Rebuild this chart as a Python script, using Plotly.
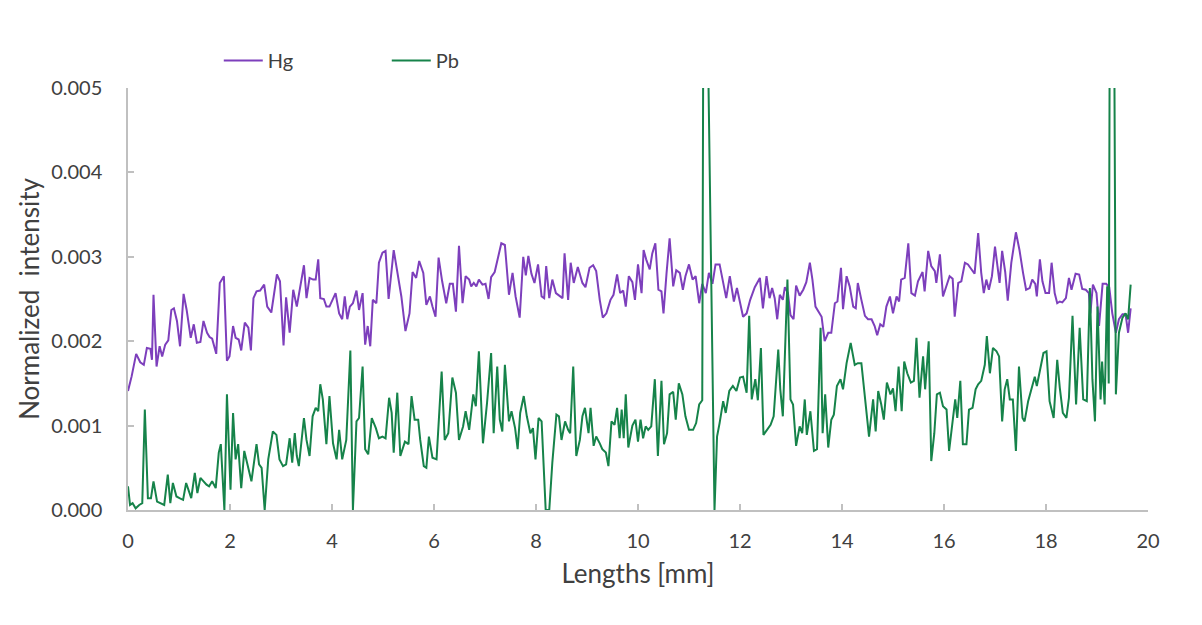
import plotly.graph_objects as go

# ---- data (x in mm, intensities in units of 1e-3) ----
x_hg = [0.00, 0.07, 0.16, 0.24, 0.31, 0.37, 0.44, 0.47, 0.50, 0.56, 0.62, 0.67, 0.73, 0.79, 0.85, 0.90, 0.96, 1.02, 1.09, 1.15,
        1.23, 1.29, 1.35, 1.42, 1.48, 1.55, 1.60, 1.65, 1.73, 1.80, 1.88, 1.94, 1.99, 2.06, 2.11, 2.17, 2.22, 2.29, 2.36, 2.41,
        2.46, 2.52, 2.59, 2.67, 2.73, 2.81, 2.92, 2.98, 3.05, 3.10, 3.17, 3.24, 3.31, 3.38, 3.45, 3.50, 3.56, 3.63, 3.68, 3.73,
        3.77, 3.84, 3.89, 3.95, 4.02, 4.07, 4.14, 4.20, 4.25, 4.30, 4.35, 4.41, 4.48, 4.53, 4.60, 4.65, 4.70, 4.75, 4.80, 4.87,
        4.92, 4.99, 5.05, 5.11, 5.21, 5.28, 5.36, 5.44, 5.52, 5.58, 5.65, 5.71, 5.79, 5.85, 5.92, 5.97, 6.03, 6.09, 6.16, 6.24,
        6.31, 6.37, 6.43, 6.49, 6.56, 6.62, 6.69, 6.73, 6.78, 6.83, 6.88, 6.95, 7.01, 7.07, 7.12, 7.19, 7.26, 7.32, 7.39, 7.47,
        7.54, 7.60, 7.68, 7.75, 7.80, 7.85, 7.91, 7.97, 8.04, 8.11, 8.16, 8.20, 8.26, 8.32, 8.39, 8.46, 8.52, 8.56, 8.63, 8.68,
        8.74, 8.82, 8.91, 8.97, 9.05, 9.12, 9.18, 9.25, 9.31, 9.38, 9.46, 9.52, 9.59, 9.65, 9.71, 9.76, 9.82, 9.89, 9.94, 10.00,
        10.07, 10.11, 10.16, 10.23, 10.28, 10.34, 10.40, 10.46, 10.50, 10.56, 10.62, 10.69, 10.75, 10.82, 10.88, 10.93, 11.00, 11.07, 11.13, 11.20,
        11.26, 11.33, 11.39, 11.46, 11.52, 11.60, 11.67, 11.73, 11.80, 11.88, 11.94, 12.01, 12.06, 12.13, 12.20, 12.29, 12.39, 12.45, 12.52, 12.58,
        12.63, 12.68, 12.73, 12.78, 12.84, 12.88, 12.94, 12.99, 13.05, 13.10, 13.17, 13.24, 13.30, 13.37, 13.42, 13.48, 13.55, 13.60, 13.66, 13.73,
        13.79, 13.86, 13.91, 13.98, 14.02, 14.09, 14.15, 14.22, 14.27, 14.31, 14.38, 14.45, 14.51, 14.58, 14.64, 14.69, 14.75, 14.81, 14.87, 14.94,
        15.00, 15.07, 15.12, 15.16, 15.23, 15.30, 15.36, 15.43, 15.49, 15.58, 15.62, 15.69, 15.75, 15.82, 15.85, 15.92, 15.98, 16.05, 16.11, 16.17,
        16.21, 16.28, 16.34, 16.41, 16.47, 16.54, 16.60, 16.67, 16.73, 16.78, 16.83, 16.88, 16.94, 17.00, 17.05, 17.09, 17.14, 17.20, 17.25, 17.32,
        17.41, 17.48, 17.55, 17.61, 17.68, 17.73, 17.79, 17.82, 17.88, 17.93, 17.99, 18.06, 18.11, 18.17, 18.22, 18.27, 18.32, 18.39, 18.45, 18.50,
        18.58, 18.65, 18.71, 18.78, 18.84, 18.87, 18.92, 18.99, 19.04, 19.11, 19.18, 19.24, 19.30, 19.37, 19.43, 19.50, 19.56, 19.61, 19.66]
hg_e3 = [1.41, 1.58, 1.85, 1.75, 1.72, 1.92, 1.91, 1.78, 2.55, 1.70, 1.94, 1.82, 1.96, 2.01, 2.37, 2.39, 2.24, 1.94, 2.56, 2.37,
         2.04, 2.20, 1.98, 1.99, 2.24, 2.10, 2.05, 2.03, 1.85, 2.69, 2.77, 1.77, 1.82, 2.18, 2.04, 2.02, 1.89, 2.22, 2.16, 1.89,
         2.51, 2.59, 2.60, 2.67, 2.41, 2.34, 2.79, 2.71, 1.95, 2.52, 2.10, 2.61, 2.41, 2.65, 2.90, 2.51, 2.75, 2.73, 2.73, 2.97,
         2.51, 2.50, 2.41, 2.41, 2.51, 2.57, 2.33, 2.26, 2.53, 2.26, 2.41, 2.45, 2.60, 2.37, 2.57, 1.96, 2.18, 1.94, 2.49, 2.45,
         2.93, 3.05, 3.07, 2.50, 3.08, 2.83, 2.53, 2.12, 2.33, 2.82, 2.75, 2.95, 2.81, 2.43, 2.53, 2.41, 2.29, 2.99, 2.71, 2.45,
         2.68, 2.68, 2.35, 3.13, 2.45, 2.77, 2.73, 2.65, 2.69, 2.65, 2.73, 2.67, 2.68, 2.50, 2.76, 2.82, 3.00, 3.16, 3.14, 2.55,
         2.81, 2.53, 2.28, 3.00, 2.78, 3.01, 2.80, 2.69, 2.91, 2.53, 2.51, 2.89, 2.51, 2.73, 2.57, 2.54, 2.51, 3.04, 2.49, 2.93,
         2.69, 2.88, 2.69, 2.64, 2.87, 2.90, 2.83, 2.49, 2.28, 2.33, 2.49, 2.55, 2.79, 2.57, 2.60, 2.41, 2.77, 2.70, 2.49, 2.91,
         2.57, 3.08, 2.97, 2.85, 3.04, 3.16, 2.61, 2.59, 2.33, 2.81, 3.22, 2.65, 2.84, 2.81, 2.61, 2.77, 2.91, 2.73, 2.77, 2.45,
         2.68, 2.57, 2.81, 2.68, 2.91, 2.91, 2.69, 2.51, 2.77, 2.47, 2.63, 2.41, 2.29, 2.33, 2.49, 2.64, 2.75, 2.39, 2.77, 2.51,
         2.63, 2.51, 2.26, 2.55, 2.49, 2.64, 2.57, 2.31, 2.26, 2.66, 2.54, 2.61, 2.70, 2.93, 2.73, 2.41, 2.33, 2.29, 2.00, 2.10,
         2.10, 2.45, 2.47, 2.87, 2.38, 2.77, 2.65, 2.41, 2.39, 2.69, 2.49, 2.30, 2.26, 2.26, 2.18, 2.07, 2.20, 2.17, 2.41, 2.53,
         2.33, 2.53, 2.47, 2.73, 2.75, 3.16, 2.57, 2.54, 2.71, 2.82, 2.59, 3.07, 2.89, 2.83, 2.69, 3.03, 2.53, 2.65, 2.77, 2.74,
         2.29, 2.69, 2.71, 2.93, 2.91, 2.85, 2.80, 3.28, 2.81, 2.57, 2.73, 2.61, 2.77, 3.12, 2.89, 2.69, 3.07, 2.82, 2.48, 2.93,
         3.29, 3.08, 2.81, 2.61, 2.63, 2.73, 2.68, 2.53, 2.97, 2.71, 2.57, 2.57, 2.93, 2.57, 2.45, 2.47, 2.46, 2.51, 2.75, 2.61,
         2.80, 2.79, 2.62, 2.61, 2.57, 2.33, 2.67, 2.57, 2.18, 2.68, 2.68, 2.64, 2.33, 2.10, 2.26, 2.32, 2.32, 2.10, 2.39]

x_pb = [0.00, 0.04, 0.09, 0.15, 0.22, 0.28, 0.33, 0.39, 0.45, 0.50, 0.57, 0.63, 0.71, 0.78, 0.83, 0.88, 0.95, 1.01, 1.08, 1.14,
        1.20, 1.24, 1.31, 1.36, 1.42, 1.48, 1.54, 1.59, 1.65, 1.72, 1.78, 1.82, 1.89, 1.94, 2.01, 2.06, 2.11, 2.16, 2.22, 2.28,
        2.35, 2.42, 2.52, 2.57, 2.62, 2.68, 2.75, 2.84, 2.91, 2.97, 3.04, 3.10, 3.17, 3.22, 3.27, 3.31, 3.35, 3.40, 3.45, 3.50,
        3.56, 3.62, 3.68, 3.73, 3.77, 3.82, 3.89, 3.95, 4.02, 4.09, 4.14, 4.20, 4.28, 4.36, 4.41, 4.48, 4.53, 4.60, 4.65, 4.71,
        4.78, 4.86, 4.92, 4.99, 5.05, 5.12, 5.17, 5.21, 5.28, 5.34, 5.43, 5.50, 5.56, 5.62, 5.69, 5.73, 5.80, 5.85, 5.90, 5.97,
        6.05, 6.15, 6.21, 6.28, 6.36, 6.43, 6.49, 6.57, 6.62, 6.69, 6.77, 6.82, 6.88, 6.96, 7.04, 7.12, 7.17, 7.24, 7.29, 7.34,
        7.39, 7.47, 7.52, 7.59, 7.64, 7.69, 7.76, 7.82, 7.89, 7.94, 7.99, 8.05, 8.11, 8.19, 8.26, 8.32, 8.40, 8.45, 8.50, 8.57,
        8.63, 8.67, 8.73, 8.79, 8.86, 8.91, 8.96, 9.03, 9.07, 9.13, 9.18, 9.25, 9.30, 9.37, 9.42, 9.48, 9.54, 9.59, 9.64, 9.68,
        9.72, 9.76, 9.81, 9.89, 9.95, 10.00, 10.05, 10.10, 10.15, 10.20, 10.26, 10.33, 10.39, 10.46, 10.51, 10.57, 10.62, 10.69, 10.74, 10.80,
        10.87, 10.93, 11.00, 11.08, 11.14, 11.20, 11.26, 11.29, 11.36, 11.50, 11.55, 11.60, 11.67, 11.72, 11.79, 11.86, 11.93, 12.00, 12.06, 12.13,
        12.18, 12.23, 12.30, 12.35, 12.41, 12.46, 12.53, 12.60, 12.66, 12.75, 12.79, 12.84, 12.93, 12.99, 13.04, 13.10, 13.17, 13.22, 13.27, 13.31,
        13.38, 13.45, 13.51, 13.58, 13.62, 13.67, 13.73, 13.79, 13.84, 13.90, 13.97, 14.02, 14.09, 14.17, 14.25, 14.31, 14.38, 14.45, 14.53, 14.61,
        14.66, 14.71, 14.77, 14.82, 14.88, 14.95, 15.00, 15.05, 15.11, 15.17, 15.22, 15.28, 15.35, 15.41, 15.46, 15.52, 15.59, 15.63, 15.70, 15.75,
        15.81, 15.86, 15.92, 15.98, 16.05, 16.10, 16.15, 16.22, 16.26, 16.32, 16.37, 16.44, 16.49, 16.56, 16.62, 16.67, 16.73, 16.80, 16.84, 16.90,
        16.96, 17.03, 17.08, 17.14, 17.19, 17.24, 17.29, 17.35, 17.41, 17.47, 17.54, 17.58, 17.65, 17.71, 17.78, 17.82, 17.89, 17.95, 18.01, 18.07,
        18.15, 18.22, 18.27, 18.33, 18.40, 18.45, 18.52, 18.59, 18.66, 18.73, 18.80, 18.86, 18.91, 18.96, 19.01, 19.07, 19.10, 19.15, 19.20, 19.23,
        19.26, 19.32, 19.37, 19.43, 19.50, 19.56, 19.61, 19.66]
pb_e3 = [0.28, 0.06, 0.08, 0.02, 0.06, 0.08, 1.19, 0.14, 0.14, 0.34, 0.10, 0.08, 0.06, 0.42, 0.08, 0.32, 0.16, 0.14, 0.12, 0.32,
         0.20, 0.14, 0.44, 0.20, 0.38, 0.34, 0.30, 0.28, 0.34, 0.26, 0.68, 0.78, 0.00, 1.37, 0.24, 1.15, 0.60, 0.78, 0.26, 0.70,
         0.50, 0.34, 0.78, 0.54, 0.50, 0.00, 0.60, 0.93, 0.89, 0.60, 0.52, 0.54, 0.85, 0.56, 0.91, 0.64, 0.52, 0.83, 1.09, 0.83,
         0.64, 1.11, 1.21, 1.17, 1.49, 1.31, 0.78, 1.35, 0.79, 0.60, 0.95, 0.60, 0.83, 1.89, 0.00, 1.05, 1.09, 1.70, 0.72, 0.66,
         1.09, 0.97, 0.85, 0.87, 0.85, 1.33, 1.15, 0.68, 1.39, 0.64, 0.81, 0.78, 1.35, 1.07, 1.07, 0.83, 0.52, 0.50, 0.87, 0.62,
         0.60, 1.64, 0.83, 0.91, 1.57, 1.39, 0.83, 0.99, 1.17, 0.95, 1.37, 1.23, 1.88, 0.79, 1.27, 1.86, 0.91, 1.70, 1.07, 0.93,
         1.72, 1.05, 1.17, 0.97, 0.72, 1.15, 1.35, 1.11, 0.91, 0.97, 0.60, 1.09, 1.05, 0.00, 0.00, 0.56, 1.13, 1.11, 0.83, 1.05,
         0.95, 0.91, 1.70, 0.64, 0.83, 1.11, 1.21, 0.91, 1.21, 0.76, 0.87, 0.79, 0.72, 0.68, 0.52, 1.05, 1.01, 1.21, 0.85, 1.19,
         0.85, 1.37, 0.74, 1.00, 1.07, 0.81, 1.07, 0.85, 0.99, 0.95, 0.99, 1.55, 0.64, 1.53, 0.78, 0.91, 1.37, 1.40, 1.07, 1.50,
         1.37, 1.11, 0.95, 0.95, 1.03, 1.25, 1.30, 8.00, 6.00, 0.00, 0.87, 1.03, 1.29, 1.15, 1.41, 1.47, 1.41, 1.57, 1.58, 1.39,
         2.30, 1.31, 1.55, 1.30, 1.92, 0.89, 0.95, 1.01, 1.11, 1.90, 1.43, 1.11, 2.73, 1.31, 1.25, 0.76, 0.99, 0.91, 1.31, 0.89,
         1.17, 0.70, 0.72, 2.16, 0.91, 1.37, 0.74, 1.07, 1.13, 1.47, 1.55, 1.43, 1.74, 1.98, 1.72, 1.74, 1.74, 1.35, 0.87, 1.31,
         0.93, 1.41, 1.25, 1.07, 1.51, 1.37, 1.44, 1.17, 1.70, 1.17, 1.76, 1.62, 1.51, 1.53, 2.04, 1.33, 1.82, 1.43, 2.00, 0.58,
         0.91, 1.37, 1.39, 1.23, 1.19, 0.70, 0.97, 1.31, 1.09, 1.53, 0.78, 0.78, 1.19, 1.21, 1.43, 1.49, 1.53, 1.72, 2.06, 1.62,
         1.92, 1.88, 1.82, 1.05, 1.43, 1.55, 1.31, 1.31, 0.70, 1.70, 1.09, 1.05, 1.29, 1.41, 1.58, 1.47, 1.66, 1.86, 1.88, 1.29,
         1.09, 1.78, 1.45, 1.15, 1.09, 1.33, 2.30, 1.25, 2.16, 1.31, 1.29, 2.63, 1.55, 1.05, 2.41, 1.31, 1.76, 1.25, 2.65, 1.50,
         8.00, 8.00, 1.37, 2.10, 2.28, 2.33, 2.26, 2.67]

series_names = ["Hg", "Pb"]
x_ticks = [0, 2, 4, 6, 8, 10, 12, 14, 16, 18, 20]
y_ticks = [0.000, 0.001, 0.002, 0.003, 0.004, 0.005]

hg = [v / 1000 for v in hg_e3]
pb = [v / 1000 for v in pb_e3]

FONT = "Lato"
TXT = "#404040"
AX = "#c0c0c0"

fig = go.Figure()
fig.add_trace(go.Scatter(x=x_hg, y=hg, mode="lines", name=series_names[0],
                         line=dict(color="#7d3fbc", width=2)))
fig.add_trace(go.Scatter(x=x_pb, y=pb, mode="lines", name=series_names[1],
                         line=dict(color="#16834a", width=2)))

fig.update_layout(
    width=1202, height=625,
    margin=dict(l=128, r=54, t=88, b=115, autoexpand=False),
    paper_bgcolor="white", plot_bgcolor="white",
    font=dict(family=FONT, size=20, color=TXT),
    showlegend=True,
    legend=dict(orientation="h", x=0.089, xanchor="left", y=1.065, yanchor="middle",
                itemwidth=39, entrywidth=114, entrywidthmode="pixels",
                font=dict(family=FONT, size=20, color=TXT), bgcolor="rgba(0,0,0,0)"),
    xaxis=dict(range=[0, 20], tickvals=x_ticks, ticktext=[str(t) for t in x_ticks],
               showgrid=False, zeroline=False, showline=True, linecolor=AX, linewidth=1.5,
               ticks="inside", ticklen=6, tickcolor=AX, tickwidth=1.5,
               ticklabelstandoff=12,
               tickfont=dict(family=FONT, size=20, color=TXT),
               title=dict(text="Lengths [mm]", font=dict(family=FONT, size=26, color=TXT), standoff=14)),
    yaxis=dict(range=[0, 0.005], tickvals=y_ticks, tickformat=".3f",
               showgrid=False, zeroline=False, showline=True, linecolor=AX, linewidth=1.5,
               ticks="inside", ticklen=6, tickcolor=AX, tickwidth=1.5,
               ticklabelstandoff=20,
               tickfont=dict(family=FONT, size=20, color=TXT),
               title=dict(text="Normalized  intensity", font=dict(family=FONT, size=26, color=TXT), standoff=4)),
)

fig.write_html("out.html")
